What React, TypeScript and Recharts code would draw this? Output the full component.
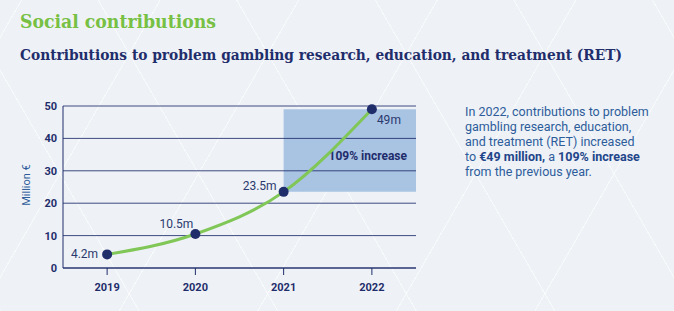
import { CartesianGrid, LabelList, Line, LineChart, ReferenceArea, XAxis, YAxis } from "recharts";

// values (million €)
const years = [2019, 2020, 2021, 2022];
const contributions = [4.2, 10.5, 23.5, 49];
const yTicks = [0, 10, 20, 30, 40, 50];
const increaseLabel = "109% increase";

const NAVY = "#1f2d6b";
const GREEN = "#80c757";
const AREA = "#a9c3e3";
const FONT = "Roboto, 'Noto Sans', sans-serif";

const data = years.map((y, i) => ({ year: y, value: contributions[i] }));

// where each point label sits relative to its dot
const labelPlace = [
    { dx: -9, dy: 4, anchor: "end" },
    { dx: -2, dy: -6, anchor: "end" },
    { dx: -7, dy: -2, anchor: "end" },
    { dx: 5, dy: 15, anchor: "start" },
];

function PointLabel(props: any) {
    const { x, y, value, index } = props;
    const p = labelPlace[index];
    return (
        <text x={x + p.dx} y={y + p.dy} textAnchor={p.anchor} fontSize={12} fill="#2b3a6e" fontFamily={FONT}>
            {value}m
        </text>
    );
}

function AreaLabel(props: any) {
    const vb = props.viewBox;
    return (
        <text x={vb.x + vb.width - 9} y={vb.y + vb.height * 0.57 + 4} textAnchor="end" fontSize={12} fontWeight="bold" fill={NAVY} fontFamily={FONT}>
            {increaseLabel}
        </text>
    );
}

function AxisTitle(props: any) {
    const vb = props.viewBox;
    const cy = vb.y + vb.height / 2 - 2;
    return (
        <text x={27} y={cy} transform={`rotate(-90, 27, ${cy})`} textAnchor="middle" dominantBaseline="middle" fontSize={11} fill="#2d5c9a" fontFamily={FONT}>
            Million €
        </text>
    );
}

const noteLines = [
    <>In 2022, contributions to problem</>,
    <>gambling research, education,</>,
    <>and treatment (RET) increased</>,
    <>to <b style={{ color: '#22458a' }}>€49 million,</b> a <b style={{ color: '#22458a' }}>109% increase</b></>,
    <>from the previous year.</>,
];

export default function App() {
    return (
        <div style={{
            position: 'absolute', left: 0, top: 0, width: 674, height: 311, overflow: 'hidden',
            backgroundColor: '#eef2f7',
            backgroundImage: 'repeating-linear-gradient(60deg, rgba(255,255,255,0.55) 0 1px, transparent 1px 120px), repeating-linear-gradient(-60deg, rgba(255,255,255,0.55) 0 1px, transparent 1px 120px)'
        }}>
            <svg width={674} height={70} style={{ position: 'absolute', left: 0, top: 0 }}>
                <text x={20} y={28} fontSize={19} fontWeight="bold" fill="#77c044" fontFamily="'DejaVu Serif', serif" textLength={196} lengthAdjust="spacingAndGlyphs">Social contributions</text>
                <text x={20} y={60} fontSize={14.5} fontWeight="bold" fill={NAVY} fontFamily="'DejaVu Serif', serif" textLength={602} lengthAdjust="spacingAndGlyphs">Contributions to problem gambling research, education, and treatment (RET)</text>
            </svg>
            <div style={{ position: 'absolute', left: 0, top: 0 }}>
                <LineChart width={674} height={311} data={data} margin={{ top: 106, right: 258, bottom: 0, left: 0 }}>
                    <CartesianGrid vertical={false} stroke={NAVY} strokeOpacity={0.85} />
                    <ReferenceArea x1={years[2]} x2={2022.5} y1={contributions[2]} y2={contributions[3]} fill={AREA} fillOpacity={1} stroke="none" ifOverflow="visible" zIndex={-200} label={<AreaLabel />} />
                    <XAxis dataKey="year" type="number" domain={[2018.5, 2022.5]} ticks={years} height={43} tickSize={7} tickMargin={8} stroke={NAVY} tick={{ fill: NAVY, fontSize: 11, fontWeight: 'bold', fontFamily: FONT }} />
                    <YAxis domain={[0, 50]} ticks={yTicks} width={63} tickSize={0} tickMargin={6} stroke={NAVY} tick={{ fill: NAVY, fontSize: 11, fontWeight: 'bold', fontFamily: FONT }} label={<AxisTitle />} />
                    <Line type="monotone" dataKey="value" stroke={GREEN} strokeWidth={3} isAnimationActive={false}
                        dot={{ r: 5, fill: NAVY, stroke: NAVY, strokeWidth: 0 }} activeDot={false}>
                        <LabelList dataKey="value" content={<PointLabel />} />
                    </Line>
                </LineChart>
            </div>
            <div style={{ position: 'absolute', left: 465, top: 104, fontFamily: FONT, fontSize: 12.5, color: '#2d5c9a', whiteSpace: 'nowrap' }}>
                {noteLines.map((l, i) => (
                    <div key={i} style={{ height: 15, lineHeight: '15px' }}>{l}</div>
                ))}
            </div>
        </div>
    );
}
